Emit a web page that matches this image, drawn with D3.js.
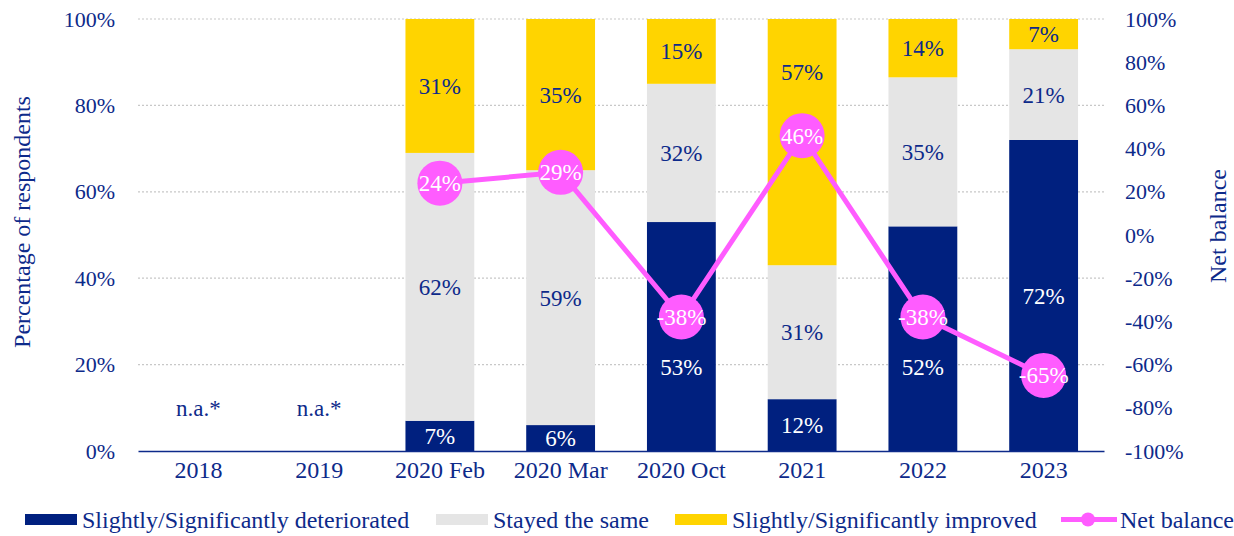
<!DOCTYPE html>
<html>
<head>
<meta charset="UTF-8">
<script src="https://d3js.org/d3.v7.min.js"></script>
<style>
  body { margin: 0; background: #fff; }
  text { font-family: "Liberation Serif", "Times New Roman", serif; }
</style>
</head>
<body>
<svg></svg>
<script>
const categories = ["2018", "2019", "2020 Feb", "2020 Mar", "2020 Oct", "2021", "2022", "2023"];
const deteriorated = [null, null, 7, 6, 53, 12, 52, 72];
const stayedSame = [null, null, 62, 59, 32, 31, 34.5, 21];
const improved = [null, null, 31, 35, 15, 57, 13.5, 7];
const netBalance = [null, null, 24, 29, -38, 46, -38, -65];
const leftTicks = [0, 20, 40, 60, 80, 100];
const rightTicks = [-100, -80, -60, -40, -20, 0, 20, 40, 60, 80, 100];
const naLabel = "n.a.*";

const width = 1234, height = 536;
const margin = { left: 138, right: 130, top: 19, bottom: 85 };
const textColor = "#0d2a8a";
const colors = { det: "#00207f", same: "#e5e5e5", imp: "#ffd400", net: "#ff5cff" };
const tickFs = 22, labelFs = 23, catFs = 24, legendFs = 24;

const svg = d3.select("svg").attr("width", width).attr("height", height);

const x = d3.scaleBand().domain(categories)
  .range([margin.left, width - margin.right]).paddingInner(0.43).paddingOuter(0.215);
const y = d3.scaleLinear().domain([0, 100]).range([height - margin.bottom, margin.top]);
const y2 = d3.scaleLinear().domain([-100, 100]).range([height - margin.bottom, margin.top]);
const cx = c => x(c) + x.bandwidth() / 2;

// gridlines
svg.append("g").selectAll("line").data(leftTicks.filter(d => d > 0)).join("line")
  .attr("x1", margin.left).attr("x2", width - margin.right)
  .attr("y1", d => y(d)).attr("y2", d => y(d))
  .attr("stroke", "#c8c8c8").attr("stroke-width", 1.2).attr("stroke-dasharray", "2,2");

// stacked bars
const rows = categories.map((c, i) => ({ cat: c, i: i, det: deteriorated[i] || 0, same: stayedSame[i] || 0, imp: improved[i] || 0 }));
const stack = d3.stack().keys(["det", "same", "imp"])(rows);

// keep a segment label clear of the net balance marker in the same bar
function labelY(d, key) {
  const mid = (y(d[0]) + y(d[1])) / 2;
  const nb = netBalance[d.data.i];
  if (nb === null) return mid;
  const py = y2(nb);
  if (Math.abs(mid - py) < 42) return key === "imp" ? py - 64 : py + 50;
  return mid;
}

const gBars = svg.append("g");
const gLabels = svg.append("g");
stack.forEach(layer => {
  const segs = layer.filter(d => d[1] > d[0]);
  gBars.append("g").selectAll("rect").data(segs).join("rect")
    .attr("x", d => x(d.data.cat))
    .attr("width", x.bandwidth())
    .attr("y", d => y(d[1]))
    .attr("height", d => y(d[0]) - y(d[1]))
    .attr("fill", colors[layer.key]);
  gLabels.append("g").selectAll("text").data(segs).join("text")
    .attr("x", d => cx(d.data.cat))
    .attr("y", d => labelY(d, layer.key))
    .attr("dy", "0.35em")
    .attr("text-anchor", "middle")
    .attr("font-size", labelFs)
    .attr("fill", layer.key === "det" ? "#fff" : textColor)
    .text(d => Math.round(d[1] - d[0]) + "%");
});

// n.a. labels
svg.append("g").selectAll("text").data(categories.filter((c, i) => deteriorated[i] === null)).join("text")
  .attr("x", d => cx(d))
  .attr("y", y(10))
  .attr("dy", "0.35em")
  .attr("text-anchor", "middle")
  .attr("font-size", labelFs)
  .attr("fill", textColor)
  .text(naLabel);

// axes
const xAxis = svg.append("g").attr("transform", `translate(0,${y(0)})`)
  .call(d3.axisBottom(x).tickSize(0).tickPadding(10));
xAxis.select(".domain").attr("stroke", textColor).attr("stroke-width", 1.5);
xAxis.selectAll("text").attr("font-size", catFs).attr("fill", textColor)
  .style("font-family", "'Liberation Serif', serif");

const yAxis = svg.append("g").attr("transform", `translate(${margin.left - 23},0)`)
  .call(d3.axisLeft(y).tickValues(leftTicks).tickSize(0).tickPadding(0).tickFormat(d => d + "%"));
yAxis.select(".domain").remove();
yAxis.selectAll("text").attr("font-size", tickFs).attr("fill", textColor)
  .style("font-family", "'Liberation Serif', serif");

const yAxis2 = svg.append("g").attr("transform", `translate(${width - margin.right + 21},0)`)
  .call(d3.axisRight(y2).tickValues(rightTicks).tickSize(0).tickPadding(0).tickFormat(d => d + "%"));
yAxis2.select(".domain").remove();
yAxis2.selectAll("text").attr("font-size", tickFs).attr("fill", textColor)
  .style("font-family", "'Liberation Serif', serif");

// axis titles
svg.append("text")
  .attr("transform", `translate(30,222) rotate(-90)`)
  .attr("text-anchor", "middle").attr("font-size", 24).attr("fill", textColor)
  .text("Percentage of respondents");
svg.append("text")
  .attr("transform", `translate(1226,226) rotate(-90)`)
  .attr("text-anchor", "middle").attr("font-size", 24).attr("fill", textColor)
  .text("Net balance");

// net balance line
const netData = categories.map((c, i) => ({ cat: c, v: netBalance[i] })).filter(d => d.v !== null);
const line = d3.line().x(d => cx(d.cat)).y(d => y2(d.v));
svg.append("path").datum(netData).attr("d", line)
  .attr("fill", "none").attr("stroke", colors.net).attr("stroke-width", 5);
const pts = svg.append("g").selectAll("g").data(netData).join("g")
  .attr("transform", d => `translate(${cx(d.cat)},${y2(d.v)})`);
pts.append("circle").attr("r", 22.5).attr("fill", colors.net);
pts.append("text").attr("text-anchor", "middle").attr("dy", "0.35em")
  .attr("font-size", labelFs).attr("fill", "#fff").text(d => d.v + "%");

// legend
const legendItems = [
  { label: "Slightly/Significantly deteriorated", color: colors.det, x: 25, type: "rect" },
  { label: "Stayed the same", color: colors.same, x: 436, type: "rect" },
  { label: "Slightly/Significantly improved", color: colors.imp, x: 675, type: "rect" },
  { label: "Net balance", color: colors.net, x: 1061, type: "line" }
];
const lg = svg.append("g").selectAll("g").data(legendItems).join("g")
  .attr("transform", d => `translate(${d.x},519.5)`);
lg.filter(d => d.type === "rect").append("rect")
  .attr("x", 0).attr("y", -5.5).attr("width", 52).attr("height", 11).attr("fill", d => d.color);
lg.filter(d => d.type === "line").append("line")
  .attr("x1", 0).attr("x2", 56).attr("y1", 0).attr("y2", 0)
  .attr("stroke", d => d.color).attr("stroke-width", 5);
lg.filter(d => d.type === "line").append("circle")
  .attr("cx", 27).attr("r", 7).attr("fill", d => d.color);
lg.append("text").attr("x", d => d.type === "line" ? 59 : 57).attr("dy", "0.35em")
  .attr("font-size", legendFs).attr("fill", textColor).text(d => d.label);
</script>
</body>
</html>
